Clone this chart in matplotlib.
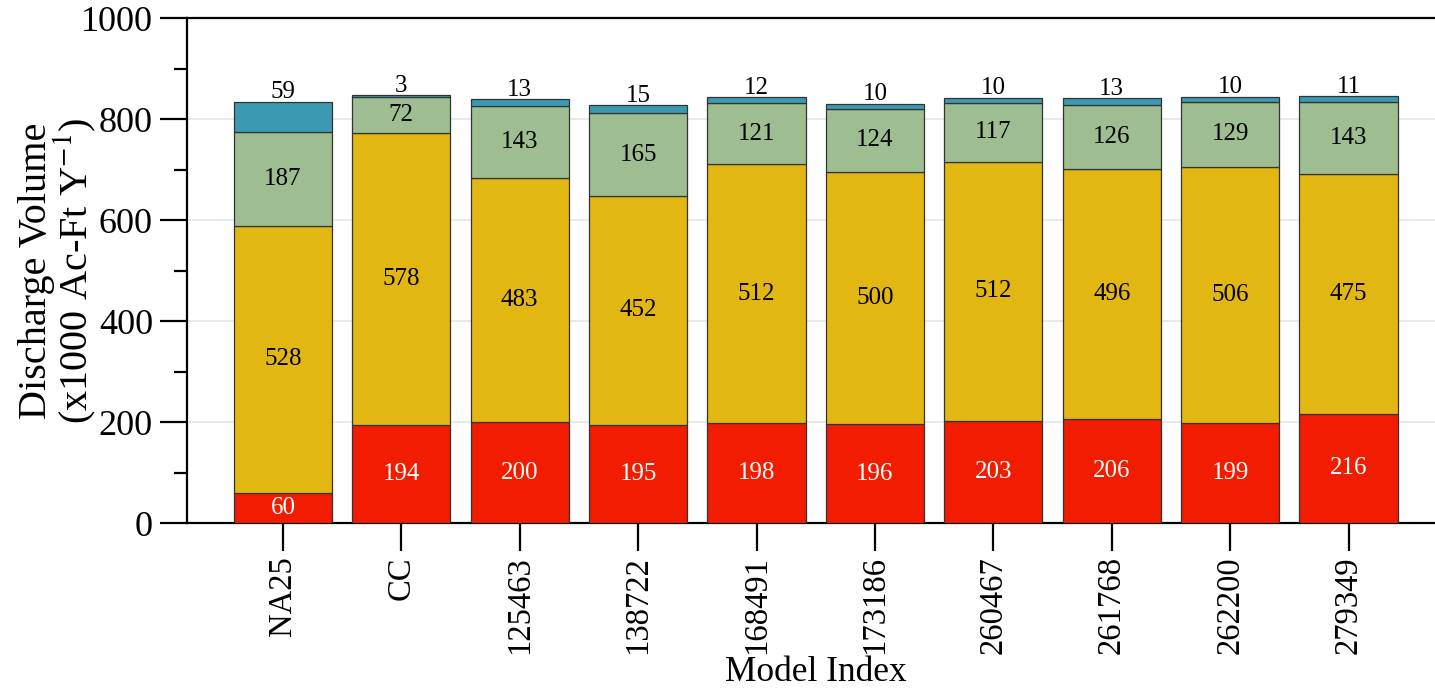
import matplotlib
matplotlib.use("Agg")
import matplotlib.pyplot as plt
import numpy as np
from matplotlib.ticker import MultipleLocator

plt.rcParams['font.family'] = ['Liberation Serif', 'DejaVu Serif']
plt.rcParams['mathtext.fontset'] = 'stix'

models = ['NA25', 'CC', '125463', '138722', '168491', '173186', '260467', '261768', '262200', '279349']
red_vals = [60, 194, 200, 195, 198, 196, 203, 206, 199, 216]
yellow_vals = [528, 578, 483, 452, 512, 500, 512, 496, 506, 475]
green_vals = [187, 72, 143, 165, 121, 124, 117, 126, 129, 143]
blue_vals = [59, 3, 13, 15, 12, 10, 10, 13, 10, 11]

colors = ['#F21C00', '#E2B712', '#9EBE91', '#3B9AB2']
series = [red_vals, yellow_vals, green_vals, blue_vals]

fig = plt.figure(figsize=(14.35, 6.9), dpi=100)
ax = fig.add_axes([0.1303, 0.242, 0.8697, 0.7319])

x = np.arange(len(models))
bottom = np.zeros(len(models))
for i, (vals, c) in enumerate(zip(series, colors)):
    vals = np.array(vals)
    ax.bar(x, vals, width=0.83, bottom=bottom, color=c, edgecolor='#333333',
           linewidth=0.9, zorder=3)
    for xi, b, v in zip(x, bottom, vals):
        if i == 3:
            ax.annotate(str(v), (xi, b + v), xytext=(0, 2.5), textcoords='offset points',
                        ha='center', va='baseline', fontsize=18, color='black')
        else:
            ax.text(xi, b + v / 2, str(v), ha='center', va='center', fontsize=18,
                    color='white' if i == 0 else 'black', zorder=4)
    bottom = bottom + vals

ax.set_xlim(-0.81, 9.73)
ax.set_ylim(0, 1000)
ax.set_xticks(x)
ax.set_xticklabels(models, rotation=90)
ax.yaxis.set_major_locator(MultipleLocator(200))
ax.yaxis.set_minor_locator(MultipleLocator(100))

for y in [200, 400, 600, 800]:
    ax.axhline(y, color='#E6E6E6', linewidth=1.2, zorder=0)

ax.spines['right'].set_visible(False)
for s in ['left', 'top', 'bottom']:
    ax.spines[s].set_linewidth(1.6)

ax.tick_params(axis='y', which='major', length=19.5, width=1.6, labelsize=26, pad=5)
ax.tick_params(axis='y', which='minor', length=9.7, width=1.6)
ax.tick_params(axis='x', which='major', length=20, width=1.6, labelsize=23.5, pad=4)

ax.set_xlabel('Model Index', fontsize=25.5)
ax.xaxis.set_label_coords(0.504, -0.264)
ax.set_ylabel('Discharge Volume\n(x1000 Ac-Ft Y$^{-1}$)', fontsize=29, labelpad=-12,
              linespacing=0.9)

fig.savefig('out.png', dpi=100)
